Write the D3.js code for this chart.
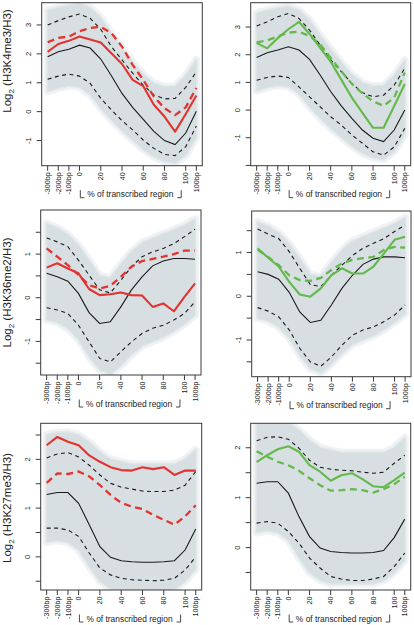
<!DOCTYPE html>
<html><head><meta charset="utf-8">
<script src="https://cdn.jsdelivr.net/npm/d3@7"></script>
<style>
body{margin:0;background:#fff}
svg{display:block}
text{font-family:"Liberation Sans",Arial,Helvetica,sans-serif;fill:#222}
</style>
</head><body>
<svg id="c" width="414" height="625"></svg>
<script>
// ---- categories / ticks ----
const positions = d3.range(15); // -300bp,-200bp,-100bp,0%,10%..100%,+100bp
const xTickIndex = [0,1,2,3,5,7,9,11,13,14];
const xTickLabels = ["-300bp","-200bp","-100bp","0","20","40","60","80","100","100bp"];
const xAxisTitle = "% of transcribed region";

// ---- row 1 : H3K4me3 ----
const median1 = [1.90,2.07,2.16,2.30,2.20,1.82,1.24,0.63,0.15,-0.27,-0.68,-1.00,-1.14,-0.74,0.01];
const upper1  = [3.00,3.15,3.28,3.38,3.23,2.85,2.25,1.79,1.33,0.92,0.58,0.44,0.46,0.84,1.38];
const lower1  = [1.12,1.23,1.30,1.23,0.98,0.46,0.06,-0.31,-0.63,-0.98,-1.27,-1.48,-1.52,-1.21,-0.50];
const median2 = [1.90,2.07,2.17,2.29,2.17,1.83,1.27,0.67,0.15,-0.30,-0.72,-1.02,-1.14,-0.72,0.00];
const upper2  = [3.04,3.19,3.37,3.49,3.31,2.89,2.35,1.81,1.39,0.96,0.63,0.48,0.54,0.90,1.51];
const lower2  = [1.08,1.18,1.23,1.18,0.84,0.48,0.12,-0.24,-0.54,-0.90,-1.20,-1.51,-1.63,-1.33,-0.66];
const cloudHiA = [3.50,3.60,3.68,3.74,3.60,3.25,2.70,2.20,1.72,1.28,0.98,0.86,0.88,1.25,1.80];
const cloudLoA = [0.70,0.82,0.90,0.85,0.60,0.12,-0.28,-0.65,-0.98,-1.30,-1.55,-1.72,-1.78,-1.50,-0.88];
const red1     = [2.07,2.34,2.45,2.60,2.50,2.39,2.02,1.65,1.10,0.88,0.24,-0.17,-0.69,-0.08,0.56];
const redDash1 = [2.40,2.55,2.60,2.78,2.90,2.93,2.72,2.25,1.62,1.10,0.52,0.12,-0.12,0.15,0.82];
const green2     = [2.43,2.23,2.60,2.92,3.19,2.75,2.25,1.75,1.10,0.45,-0.10,-0.64,-0.64,0.15,0.94];
const greenDash2 = [2.45,2.52,2.66,2.80,2.83,2.68,2.38,1.88,1.40,0.95,0.60,0.32,0.15,0.45,1.36];

// ---- row 2 : H3K36me2 ----
const median3 = [0.56,0.48,0.38,0.10,-0.34,-0.59,-0.55,-0.21,0.18,0.48,0.73,0.84,0.90,0.90,0.88];
const upper3  = [1.37,1.28,1.17,0.86,0.52,0.18,0.11,0.40,0.71,0.94,1.05,1.13,1.24,1.40,1.57];
const lower3  = [-0.23,-0.28,-0.36,-0.63,-1.01,-1.39,-1.47,-1.24,-1.01,-0.82,-0.70,-0.63,-0.51,-0.36,-0.09];
const median4 = [0.56,0.50,0.39,0.09,-0.36,-0.60,-0.55,-0.20,0.18,0.48,0.73,0.85,0.90,0.90,0.88];
const upper4  = [1.54,1.42,1.32,1.02,0.64,0.27,0.22,0.48,0.71,0.93,1.10,1.21,1.32,1.48,1.63];
const lower4  = [-0.26,-0.34,-0.47,-0.77,-1.19,-1.50,-1.60,-1.39,-1.12,-0.89,-0.77,-0.70,-0.58,-0.43,-0.20];
const cloudHiB = [1.70,1.60,1.45,1.20,0.86,0.50,0.45,0.76,1.05,1.26,1.36,1.46,1.56,1.66,1.80];
const cloudLoB = [-0.50,-0.56,-0.70,-0.95,-1.35,-1.65,-1.75,-1.55,-1.30,-1.10,-1.00,-0.90,-0.76,-0.60,-0.40];
const red3     = [0.69,0.79,0.67,0.56,0.20,0.06,0.08,0.12,0.06,0.05,-0.21,-0.13,-0.31,0.02,0.33];
const redDash3 = [1.13,0.94,0.75,0.52,0.29,0.21,0.27,0.48,0.71,0.84,0.89,0.94,1.00,1.08,1.08];
const green4     = [1.10,0.88,0.68,0.33,0.04,-0.01,0.18,0.48,0.64,0.52,0.52,0.68,0.98,1.29,1.36];
const greenDash4 = [1.06,0.90,0.71,0.48,0.37,0.35,0.42,0.60,0.75,0.83,0.87,0.90,1.06,1.13,1.11];

// ---- row 3 : H3K27me3 ----
const median5 = [1.28,1.32,1.32,1.10,0.66,0.21,-0.01,-0.08,-0.10,-0.11,-0.11,-0.10,-0.08,0.14,0.57];
const upper5  = [2.03,2.11,2.14,2.05,1.88,1.68,1.51,1.43,1.39,1.35,1.34,1.34,1.37,1.47,1.75];
const lower5  = [0.59,0.59,0.55,0.42,0.08,-0.23,-0.37,-0.44,-0.47,-0.48,-0.49,-0.48,-0.44,-0.27,0.00];
const median6 = [1.29,1.32,1.32,1.09,0.62,0.22,-0.01,-0.08,-0.10,-0.11,-0.11,-0.10,-0.06,0.20,0.57];
const upper6  = [2.14,2.21,2.22,2.17,1.99,1.75,1.61,1.57,1.55,1.54,1.51,1.49,1.51,1.69,1.85];
const lower6  = [0.49,0.52,0.49,0.32,0.09,-0.21,-0.41,-0.58,-0.63,-0.66,-0.66,-0.63,-0.58,-0.38,-0.11];
const cloudHiC = [2.50,2.55,2.55,2.50,2.35,2.15,2.00,1.95,1.90,1.90,1.90,1.90,1.90,2.00,2.20];
const cloudLoC = [0.30,0.34,0.30,0.15,-0.20,-0.50,-0.65,-0.72,-0.72,-0.72,-0.72,-0.72,-0.66,-0.50,-0.25];
const red5     = [2.29,2.46,2.36,2.29,2.08,1.95,1.84,1.78,1.77,1.84,1.80,1.84,1.68,1.77,1.77];
const redDash5 = [1.52,1.71,1.70,1.75,1.65,1.47,1.27,1.11,1.03,0.98,0.86,0.76,0.66,0.83,1.06];
const green6     = [1.71,1.85,1.97,2.03,1.92,1.65,1.52,1.34,1.45,1.49,1.37,1.23,1.21,1.35,1.50];
const greenDash6 = [1.93,1.82,1.72,1.65,1.54,1.39,1.25,1.14,1.15,1.17,1.15,1.10,1.17,1.27,1.42];

// ---- y ticks ----
const yTicksA1 = [-1,0,1,2,3];          const yLabA1 = ["-1","0","1","2","3"];
const yTicksA2 = [-2,-1,0,1,2,3];       const yLabA2 = ["","-1","0","1","2","3"];
const yTicksB  = [-1.5,-1,-0.5,0,0.5,1,1.5]; const yLabB = ["","-1","","0","","1",""];
const yTicksC5 = [-0.5,0,0.5,1,1.5,2,2.5];   const yLabC5 = ["","0","","1","","2",""];
const yTicksC6 = [-0.5,0,0.5,1,1.5,2];       const yLabC6 = ["","0","","1","","2"];

const rowTitles = ["H3K4me3","H3K36me2","H3K27me3"];

const RED = "#e2332f", GREEN = "#63b94b";

const panels = [
 {l:41.7,r:202.3,t:2.7,b:165.7, ydom:[-1.87,3.77], yt:yTicksA1, yl:yLabA1, med:median1, up:upper1, lo:lower1, ch:cloudHiA, cl:cloudLoA, sol:red1, dsh:redDash1, col:RED, title:rowTitles[0], ty:61},
 {l:250.7,r:410.7,t:2.7,b:165.7, ydom:[-2.01,3.88], yt:yTicksA2, yl:yLabA2, med:median2, up:upper2, lo:lower2, ch:cloudHiA, cl:cloudLoA, sol:green2, dsh:greenDash2, col:GREEN},
 {l:40.7,r:201,t:210,b:375, ydom:[-1.77,2.01], yt:yTicksB, yl:yLabB, med:median3, up:upper3, lo:lower3, ch:cloudHiB, cl:cloudLoB, sol:red3, dsh:redDash3, col:RED, title:rowTitles[1], ty:292.5},
 {l:251.7,r:411,t:211,b:376.7, ydom:[-1.84,1.95], yt:yTicksB, yl:yLabB, med:median4, up:upper4, lo:lower4, ch:cloudHiB, cl:cloudLoB, sol:green4, dsh:greenDash4, col:GREEN},
 {l:40.7,r:201.7,t:423.3,b:590, ydom:[-0.68,2.74], yt:yTicksC5, yl:yLabC5, med:median5, up:upper5, lo:lower5, ch:cloudHiC, cl:cloudLoC, sol:red5, dsh:redDash5, col:RED, title:rowTitles[2], ty:508},
 {l:250.7,r:410.7,t:423.3,b:590, ydom:[-0.85,2.49], yt:yTicksC6, yl:yLabC6, med:median6, up:upper6, lo:lower6, ch:cloudHiC, cl:cloudLoC, sol:green6, dsh:greenDash6, col:GREEN}
];

const svg = d3.select("#c");
svg.append("rect").attr("width",414).attr("height",625).attr("fill","#fff");
const defs = svg.append("defs");

panels.forEach((p,k)=>{
  const x = d3.scaleLinear().domain([-0.56,14.56]).range([p.l,p.r]);
  const y = d3.scaleLinear().domain(p.ydom).range([p.b,p.t]);
  const clipId = "clip"+k;
  defs.append("clipPath").attr("id",clipId).append("rect")
    .attr("x",p.l).attr("y",p.t).attr("width",p.r-p.l).attr("height",p.b-p.t);
  const g = svg.append("g");
  const pg = g.append("g").attr("clip-path",`url(#${clipId})`);

  const area = d3.area().x((d,i)=>x(positions[i])).y0((d,i)=>y(p.cl[i])).y1((d,i)=>y(p.ch[i]));
  pg.append("path").datum(positions).attr("d",area)
    .attr("fill","#eef2f3").attr("stroke","#f0f3f5").attr("stroke-width",8).attr("stroke-linejoin","round");
  pg.append("path").datum(positions).attr("d",area)
    .attr("fill","#e2e8ea").attr("stroke","#e2e8ea").attr("stroke-width",3).attr("stroke-linejoin","round");
  pg.append("path").datum(positions).attr("d",area).attr("fill","#d8dfe2");

  const line = arr => d3.line().x((d,i)=>x(positions[i])).y((d,i)=>y(arr[i]))(positions);
  pg.append("path").attr("d",line(p.up)).attr("fill","none").attr("stroke","#1a1a1a").attr("stroke-width",1.1).attr("stroke-dasharray","4,3.5");
  pg.append("path").attr("d",line(p.lo)).attr("fill","none").attr("stroke","#1a1a1a").attr("stroke-width",1.1).attr("stroke-dasharray","4,3.5");
  pg.append("path").attr("d",line(p.med)).attr("fill","none").attr("stroke","#1a1a1a").attr("stroke-width",1.1);
  pg.append("path").attr("d",line(p.dsh)).attr("fill","none").attr("stroke",p.col).attr("stroke-width",2.3).attr("stroke-dasharray","7,4.5");
  pg.append("path").attr("d",line(p.sol)).attr("fill","none").attr("stroke",p.col).attr("stroke-width",2.1).attr("stroke-linejoin","round");

  // box
  g.append("rect").attr("x",p.l).attr("y",p.t).attr("width",p.r-p.l).attr("height",p.b-p.t)
    .attr("fill","none").attr("stroke","#3a3a3a").attr("stroke-width",1);

  // y axis
  p.yt.forEach((v,i)=>{
    g.append("line").attr("x1",p.l-5).attr("x2",p.l).attr("y1",y(v)).attr("y2",y(v)).attr("stroke","#3a3a3a");
    if(p.yl[i]) g.append("text").attr("transform",`translate(${p.l-10.5},${y(v)}) rotate(-90)`)
      .attr("text-anchor","middle").attr("font-size",7.5).text(p.yl[i]);
  });
  // x axis
  xTickIndex.forEach((ti,i)=>{
    const xx = x(positions[ti]);
    g.append("line").attr("x1",xx).attr("x2",xx).attr("y1",p.b).attr("y2",p.b+5).attr("stroke","#3a3a3a");
    g.append("text").attr("transform",`translate(${xx},${p.b+6.5}) rotate(-90)`)
      .attr("text-anchor","end").attr("dy","0.36em").attr("font-size",7.2).text(xTickLabels[i]);
  });
  // bracket + axis title
  const xb0 = x(positions[3])+0.8, xb1 = x(positions[13])-4.5, yb = p.b+32;
  g.append("path").attr("d",`M${xb0},${yb-7.5}V${yb}H${xb0+4}`).attr("fill","none").attr("stroke","#333").attr("stroke-width",0.9);
  g.append("path").attr("d",`M${xb1},${yb-7.5}V${yb}H${xb1-4}`).attr("fill","none").attr("stroke","#333").attr("stroke-width",0.9);
  g.append("text").attr("x",(xb0+xb1)/2 - 0.5).attr("y",yb-0.5).attr("text-anchor","middle").attr("font-size",8.4).text(xAxisTitle);

  // y title
  if(p.title){
    const t = svg.append("text").attr("transform",`translate(10.5,${p.ty}) rotate(-90)`)
      .attr("text-anchor","middle").attr("font-size",11.5);
    t.append("tspan").text("Log");
    t.append("tspan").attr("font-size",8).attr("dy",3).text("2");
    t.append("tspan").attr("dy",-3).text(" ("+p.title+"/H3)");
  }
});
</script>
</body></html>
